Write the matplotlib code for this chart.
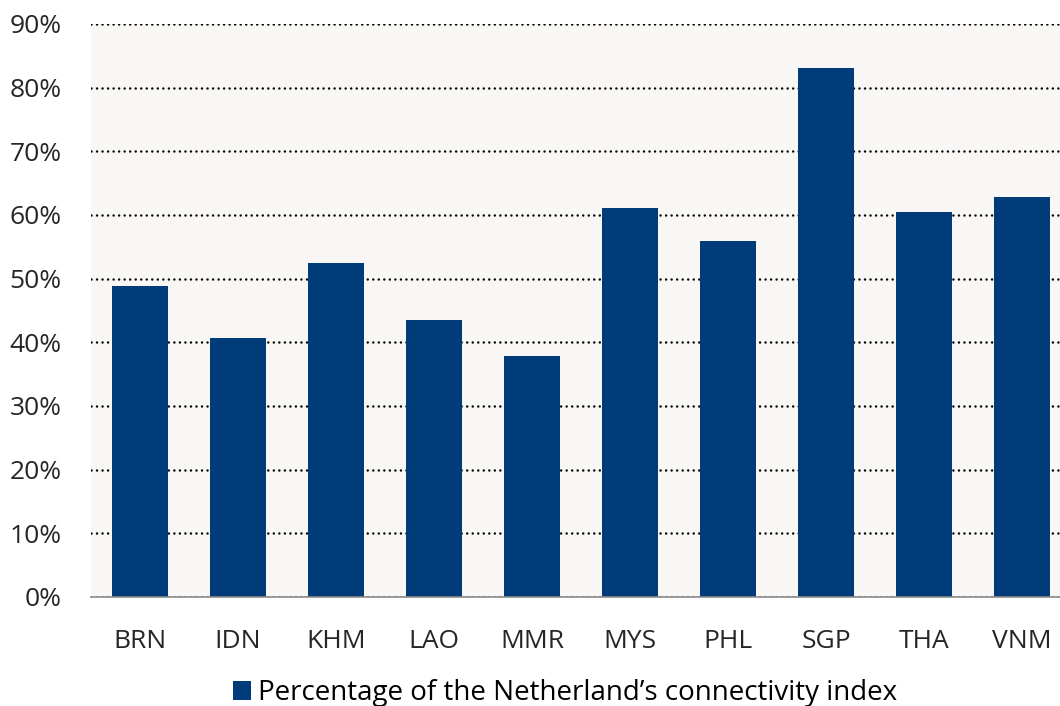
import matplotlib
matplotlib.use("Agg")
import matplotlib.pyplot as plt
from matplotlib.patches import Patch
from matplotlib.ticker import FuncFormatter, MultipleLocator

categories = ["BRN", "IDN", "KHM", "LAO", "MMR", "MYS", "PHL", "SGP", "THA", "VNM"]
values = [0.488, 0.407, 0.525, 0.435, 0.379, 0.611, 0.559, 0.831, 0.605, 0.628]
series_name = "Percentage of the Netherland\u2019s connectivity index"

plt.rcParams['font.family'] = ['Open Sans', 'DejaVu Sans']

W, H = 1060, 706
fig = plt.figure(figsize=(W / 100, H / 100), dpi=100)
left_px, right_px, top_px, bottom_px = 91, 1060, 24, 597
ax = fig.add_axes([left_px / W, 1 - bottom_px / H, (right_px - left_px) / W, (bottom_px - top_px) / H])
ax.set_facecolor("#F8F7F5")

bar_color = "#003B7A"
x = list(range(len(categories)))
ax.bar(x, values, width=0.58, color=bar_color, zorder=3)

ax.set_ylim(0, 0.9)
ax.set_xlim(-0.5, (right_px - left_px) / 98 - 0.5)
ax.yaxis.set_major_locator(MultipleLocator(0.1))
ax.yaxis.set_major_formatter(FuncFormatter(lambda v, p: f"{round(v * 100)}%"))
ax.grid(axis="y", linestyle=(0, (0.01, 2.2)), color="black", linewidth=1.8,
        dash_capstyle="round", zorder=1)
ax.set_axisbelow(True)

for s in ["top", "right", "left"]:
    ax.spines[s].set_visible(False)
ax.spines["bottom"].set_color("#8C8C8C")
ax.spines["bottom"].set_linewidth(1.2)
ax.spines["bottom"].set_zorder(4)

ax.set_xticks(x)
ax.set_xticklabels(categories)
ax.tick_params(axis="both", length=0, labelsize=19, colors="#262626")
ax.tick_params(axis="x", pad=23)
ax.tick_params(axis="y", pad=21)

handles = [Patch(facecolor=bar_color, label=series_name)]
fig.legend(handles=handles, loc="center", bbox_to_anchor=(565 / W, 1 - 693 / H),
           frameon=False, fontsize=20, handlelength=0.65, handleheight=0.65, handletextpad=0.25)

fig.savefig("out.png", dpi=100, facecolor="white")
